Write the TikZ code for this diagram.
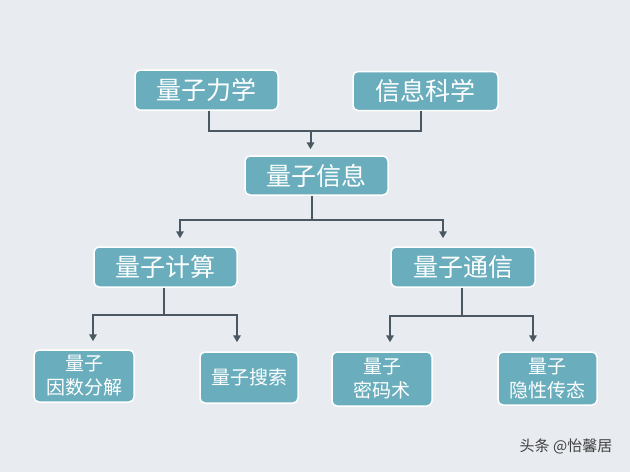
\documentclass[tikz,border=0pt]{standalone}
\usepackage{fontspec}
\newfontfamily\cjk{Noto Sans CJK SC}
\usetikzlibrary{arrows.meta,positioning,calc}
\definecolor{bgcol}{RGB}{232,235,239}
\definecolor{boxcol}{RGB}{106,174,189}
\definecolor{linecol}{RGB}{76,88,97}

\begin{document}
\begin{tikzpicture}[x=1pt, y=-1pt,
  box/.style={draw=white, line width=1.5pt, fill=boxcol, rounded corners=5pt, text=white, align=center, inner sep=0pt, font=\cjk\fontsize{25}{30}\selectfont},
  leaf/.style={box, font=\cjk\fontsize{19}{24}\selectfont},
  link/.style={linecol, line width=2pt},
  arr/.style={link, -{Triangle[length=7pt, width=7.5pt]}}
]
\useasboundingbox (0,0) rectangle (630,472);
\fill[bgcol] (0,0) rectangle (630,472);

% sources
\node[box, minimum width=143pt, minimum height=40pt] (mech) at (206.5,90) {量子力学};
\node[box, minimum width=145pt, minimum height=39pt] (infsci) at (425.5,91) {信息科学};
\node[box, minimum width=143pt, minimum height=39pt] (qinfo) at (316.5,175.5) {量子信息};

% branches
\node[box, minimum width=143pt, minimum height=40pt] (qcomp) at (165.5,267) {量子计算};
\node[box, minimum width=144pt, minimum height=40pt] (qcomm) at (463,267) {量子通信};

% leaves
\node[leaf, minimum width=100pt, minimum height=52pt] (factor) at (84,376) {量子\\因数分解};
\node[leaf, minimum width=98pt, minimum height=51pt] (search) at (249,377.5) {量子搜索};
\node[leaf, minimum width=100pt, minimum height=54pt] (crypto) at (382,379) {量子\\密码术};
\node[leaf, minimum width=99pt, minimum height=53pt] (tele) at (547.5,378.5) {量子\\隐性传态};

% joins
\coordinate (j1) at (310.5,131);
\coordinate (j2) at (312,220);
\coordinate (j3) at (164,315);
\coordinate (j4) at (462,316);

\draw[link] ([xshift=2.5pt]mech.south) |- (j1) -| ([xshift=-4.5pt]infsci.south);
\draw[arr, shorten >=6pt] (j1) -- (j1 |- qinfo.north);

\draw[link] (qinfo.south -| j2) -- (j2);
\draw[arr, shorten >=8pt] (j2) -| ([xshift=14.5pt]qcomp.north);
\draw[arr, shorten >=8pt] (j2) -| ([xshift=-20pt]qcomm.north);

\draw[link] (qcomp.south -| j3) -- (j3);
\draw[arr, shorten >=8pt] (j3) -| ([xshift=9pt]factor.north);
\draw[arr, shorten >=9pt] (j3) -| ([xshift=-12pt]search.north);

\draw[link] (qcomm.south -| j4) -- (j4);
\draw[arr, shorten >=9pt] (j4) -| ([xshift=8pt]crypto.north);
\draw[arr, shorten >=9pt] (j4) -| ([xshift=-14.5pt]tele.north);

\node[font=\cjk\fontsize{15}{18}\selectfont, text=black!75] (mark) at (566,446) {头条 @怡馨居};

\end{tikzpicture}
\end{document}
